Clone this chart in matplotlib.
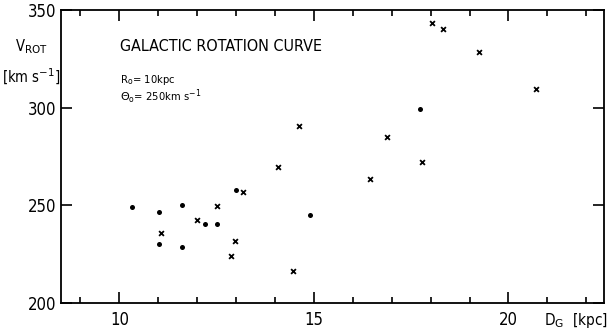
import matplotlib.pyplot as plt
from matplotlib.ticker import MultipleLocator

# distance from galactic centre [kpc] and rotation velocity [km/s]
dot_d = [10.32, 11.01, 11.01, 11.62, 11.61, 12.2, 12.5, 13.0, 14.89, 17.72]
dot_v = [249.0, 246.7, 230.2, 250.3, 228.8, 240.3, 240.3, 258.0, 245.2, 299.5]

cross_d = [11.06, 11.99, 12.5, 12.97, 12.87, 13.19, 14.08, 14.46, 14.61,
           16.88, 16.44, 17.79, 18.03, 18.32, 19.24, 20.7]
cross_v = [235.7, 242.3, 249.7, 231.6, 224.2, 256.7, 269.5, 216.4, 290.5,
           284.7, 263.5, 272.3, 343.4, 340.1, 328.2, 309.7]

x_ticks = [10, 15, 20]
y_ticks = [200, 250, 300, 350]

font = "DejaVu Sans"
stretch = "condensed"

fig = plt.figure(figsize=(6.13, 3.29), dpi=100)
ax = fig.add_axes([0.0995, 0.079, 0.8855, 0.891])

ax.scatter(dot_d, dot_v, s=13, marker="o", color="black", linewidths=0)
ax.scatter(cross_d, cross_v, s=12, marker="x", color="black", linewidths=1.3)

ax.set_xlim(8.5, 22.45)
ax.set_ylim(200, 350)
ax.set_xticks(x_ticks)
ax.set_yticks(y_ticks)
ax.xaxis.set_minor_locator(MultipleLocator(1))
ax.tick_params(which="both", direction="in", top=True, right=True, width=1.2)
ax.tick_params(which="major", length=8)
ax.tick_params(which="minor", length=4)
ax.tick_params(axis="x", which="major", pad=6)
for lab in ax.get_xticklabels() + ax.get_yticklabels():
    lab.set_fontfamily(font)
    lab.set_fontstretch(stretch)
    lab.set_fontsize(12)
for sp in ax.spines.values():
    sp.set_linewidth(1.3)

ax.text(-0.055, 0.874, r"V$_{\rm ROT}$", transform=ax.transAxes, ha="center",
        va="center", fontsize=10.5, family=font, stretch=stretch)
ax.text(-0.055, 0.77, r"[km s$^{-1}$]", transform=ax.transAxes, ha="center",
        va="center", fontsize=10.5, family=font, stretch=stretch)
ax.text(0.948, -0.058, r"D$_{\rm G}$  [kpc]", transform=ax.transAxes, ha="center",
        va="center", fontsize=11, family=font, stretch=stretch)

ax.text(0.109, 0.874, "GALACTIC ROTATION CURVE", transform=ax.transAxes,
        ha="left", va="center", fontsize=11.5, family=font, stretch=stretch)
ax.text(0.109, 0.761, r"R$_{\rm o}$= 10kpc", transform=ax.transAxes,
        ha="left", va="center", fontsize=8, family=font, stretch=stretch)
ax.text(0.109, 0.703, r"$\Theta_{\rm o}$= 250km s$^{-1}$", transform=ax.transAxes,
        ha="left", va="center", fontsize=8, family=font, stretch=stretch)

fig.savefig("out.png", dpi=100)
